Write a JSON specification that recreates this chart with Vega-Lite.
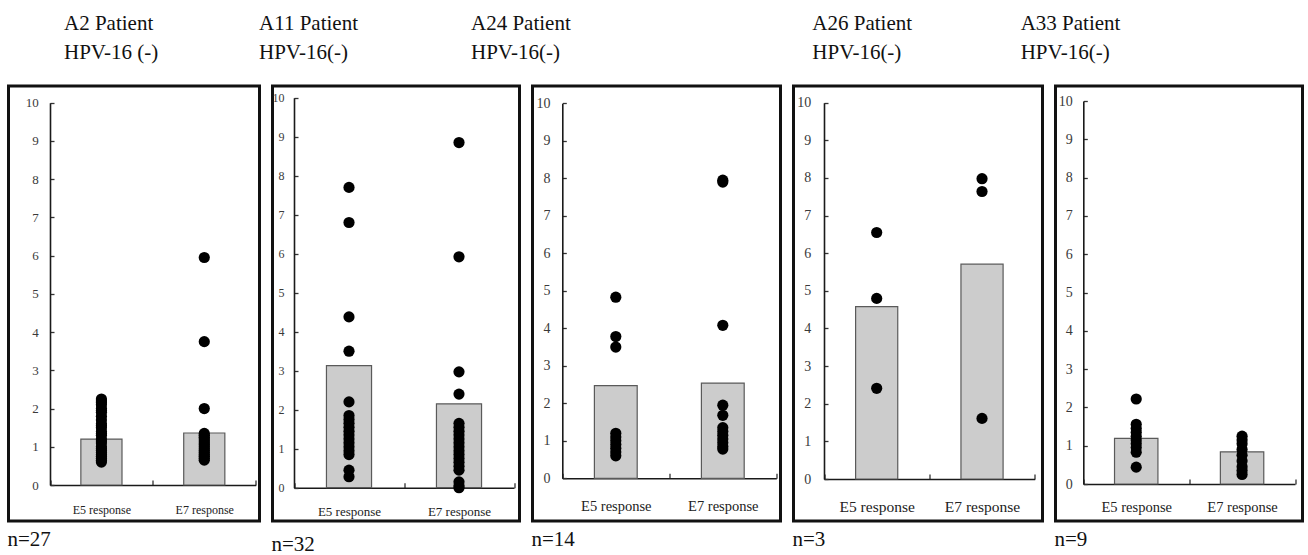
{
  "$schema": "https://vega.github.io/schema/vega-lite/v6.json",
  "background": "white",
  "padding": {"left": 5.5, "top": 11, "right": 0, "bottom": 0},
  "bounds": "flush",
  "spacing": 13,
  "datasets": {
    "bars": [
      {"patient": "A2", "response": "E5 response", "value": 1.2},
      {"patient": "A2", "response": "E7 response", "value": 1.36},
      {"patient": "A11", "response": "E5 response", "value": 3.13},
      {"patient": "A11", "response": "E7 response", "value": 2.15},
      {"patient": "A24", "response": "E5 response", "value": 2.47},
      {"patient": "A24", "response": "E7 response", "value": 2.54},
      {"patient": "A26", "response": "E5 response", "value": 4.58},
      {"patient": "A26", "response": "E7 response", "value": 5.71},
      {"patient": "A33", "response": "E5 response", "value": 1.19},
      {"patient": "A33", "response": "E7 response", "value": 0.84}
    ],
    "points": [
      {"patient": "A2", "response": "E5 response", "value": 2.25},
      {"patient": "A2", "response": "E5 response", "value": 2.2},
      {"patient": "A2", "response": "E5 response", "value": 2.15},
      {"patient": "A2", "response": "E5 response", "value": 2.1},
      {"patient": "A2", "response": "E5 response", "value": 2.0},
      {"patient": "A2", "response": "E5 response", "value": 1.95},
      {"patient": "A2", "response": "E5 response", "value": 1.9},
      {"patient": "A2", "response": "E5 response", "value": 1.8},
      {"patient": "A2", "response": "E5 response", "value": 1.7},
      {"patient": "A2", "response": "E5 response", "value": 1.6},
      {"patient": "A2", "response": "E5 response", "value": 1.55},
      {"patient": "A2", "response": "E5 response", "value": 1.5},
      {"patient": "A2", "response": "E5 response", "value": 1.4},
      {"patient": "A2", "response": "E5 response", "value": 1.35},
      {"patient": "A2", "response": "E5 response", "value": 1.3},
      {"patient": "A2", "response": "E5 response", "value": 1.2},
      {"patient": "A2", "response": "E5 response", "value": 1.15},
      {"patient": "A2", "response": "E5 response", "value": 1.1},
      {"patient": "A2", "response": "E5 response", "value": 1.0},
      {"patient": "A2", "response": "E5 response", "value": 0.95},
      {"patient": "A2", "response": "E5 response", "value": 0.9},
      {"patient": "A2", "response": "E5 response", "value": 0.85},
      {"patient": "A2", "response": "E5 response", "value": 0.8},
      {"patient": "A2", "response": "E5 response", "value": 0.75},
      {"patient": "A2", "response": "E5 response", "value": 0.7},
      {"patient": "A2", "response": "E5 response", "value": 0.65},
      {"patient": "A2", "response": "E5 response", "value": 0.6},
      {"patient": "A2", "response": "E7 response", "value": 5.95},
      {"patient": "A2", "response": "E7 response", "value": 3.75},
      {"patient": "A2", "response": "E7 response", "value": 2.0},
      {"patient": "A2", "response": "E7 response", "value": 1.35},
      {"patient": "A2", "response": "E7 response", "value": 1.3},
      {"patient": "A2", "response": "E7 response", "value": 1.25},
      {"patient": "A2", "response": "E7 response", "value": 1.2},
      {"patient": "A2", "response": "E7 response", "value": 1.15},
      {"patient": "A2", "response": "E7 response", "value": 1.1},
      {"patient": "A2", "response": "E7 response", "value": 1.05},
      {"patient": "A2", "response": "E7 response", "value": 1.0},
      {"patient": "A2", "response": "E7 response", "value": 0.95},
      {"patient": "A2", "response": "E7 response", "value": 0.9},
      {"patient": "A2", "response": "E7 response", "value": 0.85},
      {"patient": "A2", "response": "E7 response", "value": 0.8},
      {"patient": "A2", "response": "E7 response", "value": 0.75},
      {"patient": "A2", "response": "E7 response", "value": 0.7},
      {"patient": "A2", "response": "E7 response", "value": 0.65},
      {"patient": "A11", "response": "E5 response", "value": 7.7},
      {"patient": "A11", "response": "E5 response", "value": 6.8},
      {"patient": "A11", "response": "E5 response", "value": 4.38},
      {"patient": "A11", "response": "E5 response", "value": 3.5},
      {"patient": "A11", "response": "E5 response", "value": 2.2},
      {"patient": "A11", "response": "E5 response", "value": 1.85},
      {"patient": "A11", "response": "E5 response", "value": 1.75},
      {"patient": "A11", "response": "E5 response", "value": 1.65},
      {"patient": "A11", "response": "E5 response", "value": 1.55},
      {"patient": "A11", "response": "E5 response", "value": 1.45},
      {"patient": "A11", "response": "E5 response", "value": 1.35},
      {"patient": "A11", "response": "E5 response", "value": 1.25},
      {"patient": "A11", "response": "E5 response", "value": 1.15},
      {"patient": "A11", "response": "E5 response", "value": 1.05},
      {"patient": "A11", "response": "E5 response", "value": 0.95},
      {"patient": "A11", "response": "E5 response", "value": 0.85},
      {"patient": "A11", "response": "E5 response", "value": 0.45},
      {"patient": "A11", "response": "E5 response", "value": 0.28},
      {"patient": "A11", "response": "E7 response", "value": 8.85},
      {"patient": "A11", "response": "E7 response", "value": 5.92},
      {"patient": "A11", "response": "E7 response", "value": 2.97},
      {"patient": "A11", "response": "E7 response", "value": 2.4},
      {"patient": "A11", "response": "E7 response", "value": 1.65},
      {"patient": "A11", "response": "E7 response", "value": 1.55},
      {"patient": "A11", "response": "E7 response", "value": 1.45},
      {"patient": "A11", "response": "E7 response", "value": 1.35},
      {"patient": "A11", "response": "E7 response", "value": 1.25},
      {"patient": "A11", "response": "E7 response", "value": 1.15},
      {"patient": "A11", "response": "E7 response", "value": 1.05},
      {"patient": "A11", "response": "E7 response", "value": 0.95},
      {"patient": "A11", "response": "E7 response", "value": 0.85},
      {"patient": "A11", "response": "E7 response", "value": 0.75},
      {"patient": "A11", "response": "E7 response", "value": 0.65},
      {"patient": "A11", "response": "E7 response", "value": 0.55},
      {"patient": "A11", "response": "E7 response", "value": 0.45},
      {"patient": "A11", "response": "E7 response", "value": 0.15},
      {"patient": "A11", "response": "E7 response", "value": 0.05},
      {"patient": "A11", "response": "E7 response", "value": 0.0},
      {"patient": "A24", "response": "E5 response", "value": 4.83},
      {"patient": "A24", "response": "E5 response", "value": 3.78},
      {"patient": "A24", "response": "E5 response", "value": 3.5},
      {"patient": "A24", "response": "E5 response", "value": 1.2},
      {"patient": "A24", "response": "E5 response", "value": 1.1},
      {"patient": "A24", "response": "E5 response", "value": 1.0},
      {"patient": "A24", "response": "E5 response", "value": 0.9},
      {"patient": "A24", "response": "E5 response", "value": 0.8},
      {"patient": "A24", "response": "E5 response", "value": 0.7},
      {"patient": "A24", "response": "E5 response", "value": 0.6},
      {"patient": "A24", "response": "E7 response", "value": 7.95},
      {"patient": "A24", "response": "E7 response", "value": 7.9},
      {"patient": "A24", "response": "E7 response", "value": 4.08},
      {"patient": "A24", "response": "E7 response", "value": 1.95},
      {"patient": "A24", "response": "E7 response", "value": 1.68},
      {"patient": "A24", "response": "E7 response", "value": 1.35},
      {"patient": "A24", "response": "E7 response", "value": 1.25},
      {"patient": "A24", "response": "E7 response", "value": 1.15},
      {"patient": "A24", "response": "E7 response", "value": 1.05},
      {"patient": "A24", "response": "E7 response", "value": 0.95},
      {"patient": "A24", "response": "E7 response", "value": 0.85},
      {"patient": "A24", "response": "E7 response", "value": 0.78},
      {"patient": "A26", "response": "E5 response", "value": 6.55},
      {"patient": "A26", "response": "E5 response", "value": 4.8},
      {"patient": "A26", "response": "E5 response", "value": 2.41},
      {"patient": "A26", "response": "E7 response", "value": 7.98},
      {"patient": "A26", "response": "E7 response", "value": 7.64},
      {"patient": "A26", "response": "E7 response", "value": 1.61},
      {"patient": "A33", "response": "E5 response", "value": 2.22},
      {"patient": "A33", "response": "E5 response", "value": 1.56},
      {"patient": "A33", "response": "E5 response", "value": 1.45},
      {"patient": "A33", "response": "E5 response", "value": 1.35},
      {"patient": "A33", "response": "E5 response", "value": 1.25},
      {"patient": "A33", "response": "E5 response", "value": 1.15},
      {"patient": "A33", "response": "E5 response", "value": 1.05},
      {"patient": "A33", "response": "E5 response", "value": 0.95},
      {"patient": "A33", "response": "E5 response", "value": 0.83},
      {"patient": "A33", "response": "E5 response", "value": 0.44},
      {"patient": "A33", "response": "E7 response", "value": 1.25},
      {"patient": "A33", "response": "E7 response", "value": 1.15},
      {"patient": "A33", "response": "E7 response", "value": 1.05},
      {"patient": "A33", "response": "E7 response", "value": 0.9},
      {"patient": "A33", "response": "E7 response", "value": 0.75},
      {"patient": "A33", "response": "E7 response", "value": 0.6},
      {"patient": "A33", "response": "E7 response", "value": 0.45},
      {"patient": "A33", "response": "E7 response", "value": 0.35},
      {"patient": "A33", "response": "E7 response", "value": 0.25}
    ]
  },
  "hconcat": [
    {
      "width": 251, "height": 435,
      "title": {"text": ["A2 Patient", "HPV-16 (-)"], "dx": 55.5, "font": "Liberation Serif, Times New Roman, serif", "fontSize": 21, "fontWeight": "normal"},
      "layer": [
        {
          "data": {"name": "bars"},
          "transform": [{"filter": "datum.patient === 'A2'"}],
          "mark": {"type": "bar", "width": {"band": 0.4}, "fill": "#cccccc", "stroke": "#5a5a5a", "strokeWidth": 1.2},
          "encoding": {
            "x": {"field": "response", "type": "nominal", "sort": ["E5 response", "E7 response"],
                  "scale": {"range": [41.5, 247.2], "paddingInner": 0, "paddingOuter": 0},
                  "axis": {"title": "n=27", "offset": -36, "labelPadding": 33.3, "labelFontSize": 12, "titleX": -1.5, "titleY": 60}},
            "y": {"field": "value", "type": "quantitative",
                  "scale": {"domain": [0, 10], "range": [399, 16.7], "nice": false},
                  "axis": {"title": null, "offset": -41.5, "labelPadding": 15.7, "labelFontSize": 13}}
          }
        },
        {
          "data": {"name": "points"},
          "transform": [{"filter": "datum.patient === 'A2'"}],
          "mark": {"type": "circle", "size": 125, "color": "#000000", "opacity": 1},
          "encoding": {
            "x": {"field": "response", "type": "nominal", "sort": ["E5 response", "E7 response"]},
            "y": {"field": "value", "type": "quantitative"}
          }
        }
      ]
    },
    {
      "width": 247, "height": 435,
      "title": {"text": ["A11 Patient", "HPV-16(-)"], "dx": -13.5, "font": "Liberation Serif, Times New Roman, serif", "fontSize": 21, "fontWeight": "normal"},
      "layer": [
        {
          "data": {"name": "bars"},
          "transform": [{"filter": "datum.patient === 'A11'"}],
          "mark": {"type": "bar", "width": {"band": 0.41}, "fill": "#cccccc", "stroke": "#5a5a5a", "strokeWidth": 1.2},
          "encoding": {
            "x": {"field": "response", "type": "nominal", "sort": ["E5 response", "E7 response"],
                  "scale": {"range": [21.5, 241.5], "paddingInner": 0, "paddingOuter": 0},
                  "axis": {"title": "n=32", "offset": -33.3, "labelPadding": 32.3, "labelFontSize": 13, "titleX": -1.5, "titleY": 63}},
            "y": {"field": "value", "type": "quantitative",
                  "scale": {"domain": [0, 10], "range": [401.7, 11.7], "nice": false},
                  "axis": {"title": null, "offset": -21.5, "labelPadding": 14, "labelFontSize": 12}}
          }
        },
        {
          "data": {"name": "points"},
          "transform": [{"filter": "datum.patient === 'A11'"}],
          "mark": {"type": "circle", "size": 125, "color": "#000000", "opacity": 1},
          "encoding": {
            "x": {"field": "response", "type": "nominal", "sort": ["E5 response", "E7 response"]},
            "y": {"field": "value", "type": "quantitative"}
          }
        }
      ]
    },
    {
      "width": 248, "height": 435,
      "title": {"text": ["A24 Patient", "HPV-16(-)"], "dx": -61.5, "font": "Liberation Serif, Times New Roman, serif", "fontSize": 21, "fontWeight": "normal"},
      "layer": [
        {
          "data": {"name": "bars"},
          "transform": [{"filter": "datum.patient === 'A24'"}],
          "mark": {"type": "bar", "width": {"band": 0.4}, "fill": "#cccccc", "stroke": "#5a5a5a", "strokeWidth": 1.2},
          "encoding": {
            "x": {"field": "response", "type": "nominal", "sort": ["E5 response", "E7 response"],
                  "scale": {"range": [29.8, 243.8], "paddingInner": 0, "paddingOuter": 0},
                  "axis": {"title": "n=14", "offset": -42.7, "labelPadding": 36.7, "labelFontSize": 14.5, "titleX": -1.5, "titleY": 66.7}},
            "y": {"field": "value", "type": "quantitative",
                  "scale": {"domain": [0, 10], "range": [392.3, 17.3], "nice": false},
                  "axis": {"title": null, "offset": -29.8, "labelPadding": 16.3, "labelFontSize": 14}}
          }
        },
        {
          "data": {"name": "points"},
          "transform": [{"filter": "datum.patient === 'A24'"}],
          "mark": {"type": "circle", "size": 125, "color": "#000000", "opacity": 1},
          "encoding": {
            "x": {"field": "response", "type": "nominal", "sort": ["E5 response", "E7 response"]},
            "y": {"field": "value", "type": "quantitative"}
          }
        }
      ]
    },
    {
      "width": 249, "height": 435,
      "title": {"text": ["A26 Patient", "HPV-16(-)"], "dx": 18.8, "font": "Liberation Serif, Times New Roman, serif", "fontSize": 21, "fontWeight": "normal"},
      "layer": [
        {
          "data": {"name": "bars"},
          "transform": [{"filter": "datum.patient === 'A26'"}],
          "mark": {"type": "bar", "width": {"band": 0.4}, "fill": "#cccccc", "stroke": "#5a5a5a", "strokeWidth": 1.2},
          "encoding": {
            "x": {"field": "response", "type": "nominal", "sort": ["E5 response", "E7 response"],
                  "scale": {"range": [30.5, 241.2], "paddingInner": 0, "paddingOuter": 0},
                  "axis": {"title": "n=3", "offset": -42, "labelPadding": 37.7, "labelFontSize": 15.5, "titleX": -1.5, "titleY": 66}},
            "y": {"field": "value", "type": "quantitative",
                  "scale": {"domain": [0, 10], "range": [393, 16.7], "nice": false},
                  "axis": {"title": null, "offset": -30.5, "labelPadding": 17.3, "labelFontSize": 14}}
          }
        },
        {
          "data": {"name": "points"},
          "transform": [{"filter": "datum.patient === 'A26'"}],
          "mark": {"type": "circle", "size": 125, "color": "#000000", "opacity": 1},
          "encoding": {
            "x": {"field": "response", "type": "nominal", "sort": ["E5 response", "E7 response"]},
            "y": {"field": "value", "type": "quantitative"}
          }
        }
      ]
    },
    {
      "width": 247, "height": 435,
      "title": {"text": ["A33 Patient", "HPV-16(-)"], "dx": -34.8, "font": "Liberation Serif, Times New Roman, serif", "fontSize": 21, "fontWeight": "normal"},
      "layer": [
        {
          "data": {"name": "bars"},
          "transform": [{"filter": "datum.patient === 'A33'"}],
          "mark": {"type": "bar", "width": {"band": 0.41}, "fill": "#cccccc", "stroke": "#5a5a5a", "strokeWidth": 1.2},
          "encoding": {
            "x": {"field": "response", "type": "nominal", "sort": ["E5 response", "E7 response"],
                  "scale": {"range": [27.8, 239.5], "paddingInner": 0, "paddingOuter": 0},
                  "axis": {"title": "n=9", "offset": -37, "labelPadding": 32.7, "labelFontSize": 14.5, "titleX": -1.5, "titleY": 61}},
            "y": {"field": "value", "type": "quantitative",
                  "scale": {"domain": [0, 10], "range": [398, 15], "nice": false},
                  "axis": {"title": null, "offset": -27.8, "labelPadding": 15, "labelFontSize": 14}}
          }
        },
        {
          "data": {"name": "points"},
          "transform": [{"filter": "datum.patient === 'A33'"}],
          "mark": {"type": "circle", "size": 125, "color": "#000000", "opacity": 1},
          "encoding": {
            "x": {"field": "response", "type": "nominal", "sort": ["E5 response", "E7 response"]},
            "y": {"field": "value", "type": "quantitative"}
          }
        }
      ]
    }
  ],
  "config": {
    "view": {"stroke": "#111111", "strokeWidth": 3},
    "title": {"font": "Liberation Serif, Times New Roman, serif", "fontSize": 21, "fontWeight": "normal", "color": "#111111",
              "anchor": "start", "align": "left", "frame": "group", "lineHeight": 29, "baseline": "alphabetic", "offset": 23},
    "axis": {"grid": false, "domainColor": "#1a1a1a", "domainWidth": 1.6, "tickColor": "#333333", "tickWidth": 1.3,
             "labelFont": "Liberation Serif, Times New Roman, serif", "labelColor": "#333333", "titleFont": "Liberation Serif, Times New Roman, serif",
             "titleFontWeight": "normal", "titleColor": "#111111", "labelOverlap": false},
    "axisX": {"tickBand": "extent", "tickSize": -5, "labelAngle": 0, "labelBaseline": "alphabetic",
              "titleFontSize": 21, "titleAnchor": "start", "titleAlign": "left", "titleBaseline": "alphabetic", "labelColor": "#222222"},
    "axisY": {"values": [0, 1, 2, 3, 4, 5, 6, 7, 8, 9, 10], "tickSize": -4, "labelFlush": false, "labelColor": "#3a3a3a"}
  }
}
